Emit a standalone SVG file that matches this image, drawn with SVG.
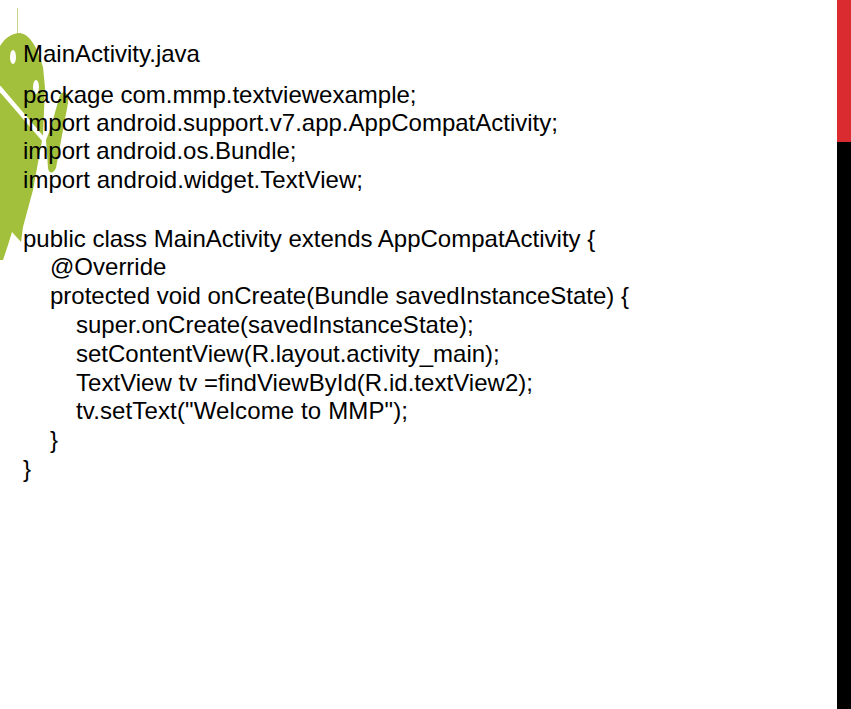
<svg xmlns="http://www.w3.org/2000/svg" width="851" height="709" viewBox="0 0 851 709">
<style>
text{font-family:"Liberation Sans",Arial,sans-serif;font-size:24px;fill:#000}
.g{fill:#a3c03c}
</style>
<rect width="851" height="709" fill="#fff"/>
<g id="android">
<rect x="17" y="8" width="1" height="26" fill="#c6d68c"/>
<path class="g" d="M0 46C5 38 12 33 20 33C31 34 39 52 43 67L45 88L43 135L33 190L23 227L21 242L12 232L8 245L3 260L0 260Z"/>
<path d="M-2 83L45 138L43 142L-2 90Z" fill="#fff"/>
<path class="g" d="M60 95C64 89 69 93 68 103L63 130L56 168C53 174 49 174 48 168L46 140L50 130Z"/>
<ellipse cx="13" cy="57" rx="3" ry="7" fill="#fff"/>
<ellipse cx="36" cy="87" rx="3" ry="7" fill="#fff"/>
</g>
<g id="bar">
<rect x="837" y="0" width="14" height="142" fill="#d92b30"/>
<rect x="837" y="142" width="14" height="567" fill="#000"/>
</g>
<g id="code">
<text x="23" y="62">MainActivity.java</text>
<text x="23" y="103">package com.mmp.textviewexample;</text>
<text x="23" y="131">import android.support.v7.app.AppCompatActivity;</text>
<text x="23" y="159">import android.os.Bundle;</text>
<text x="23" y="188" textLength="340">import android.widget.TextView;</text>
<text x="23" y="247">public class MainActivity extends AppCompatActivity {</text>
<text x="50" y="275">@Override</text>
<text x="50" y="304">protected void onCreate(Bundle savedInstanceState) {</text>
<text x="76" y="333">super.onCreate(savedInstanceState);</text>
<text x="76" y="362">setContentView(R.layout.activity_main);</text>
<text x="76" y="391" textLength="457">TextView tv =findViewById(R.id.textView2);</text>
<text x="76" y="419" textLength="332">tv.setText("Welcome to MMP");</text>
<text x="50" y="448">}</text>
<text x="23" y="477">}</text>
</g>
</svg>
